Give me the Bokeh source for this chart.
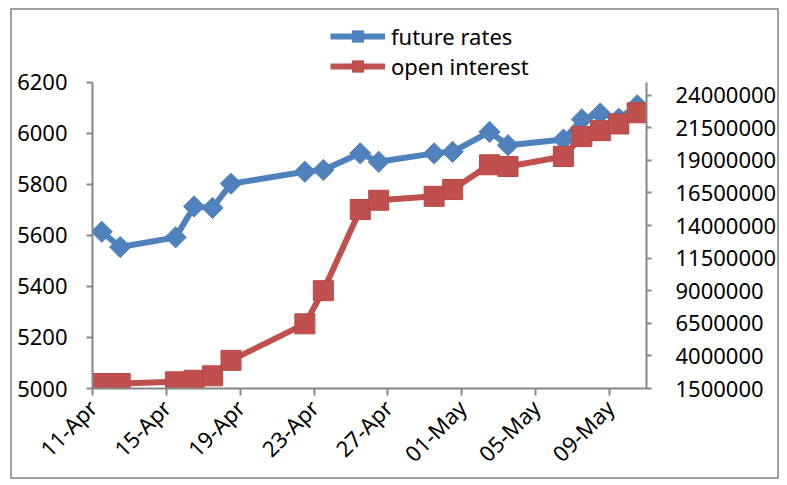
import pandas as pd
from math import pi
from bokeh.plotting import figure
from bokeh.models import (Range1d, LinearAxis, FixedTicker, DatetimeTickFormatter,
                          BasicTickFormatter, Legend, LegendItem, ColumnDataSource)
from bokeh.embed import file_html
from bokeh.resources import INLINE

# ---- data ----
dates = ["2013-04-11", "2013-04-12", "2013-04-15", "2013-04-16", "2013-04-17",
         "2013-04-18", "2013-04-22", "2013-04-23", "2013-04-25", "2013-04-26",
         "2013-04-29", "2013-04-30", "2013-05-02", "2013-05-03", "2013-05-06",
         "2013-05-07", "2013-05-08", "2013-05-09", "2013-05-10"]
future_rates = [5614, 5554, 5592, 5713, 5707, 5802, 5849, 5856, 5921, 5888,
                5921, 5927, 6005, 5953, 5975, 6054, 6077, 6057, 6109]
open_interest = [1880000, 1880000, 2010000, 2130000, 2470000, 3660000, 6460000,
                 9000000, 15230000, 15940000, 16240000, 16760000, 18660000,
                 18530000, 19300000, 20820000, 21280000, 21790000, 22650000]
tick_dates = ["2013-04-11", "2013-04-15", "2013-04-19", "2013-04-23",
              "2013-04-27", "2013-05-01", "2013-05-05", "2013-05-09"]
left_ticks = [5000, 5200, 5400, 5600, 5800, 6000, 6200]
right_ticks = [1500000, 4000000, 6500000, 9000000, 11500000, 14000000,
               16500000, 19000000, 21500000, 24000000]

BLUE = "#4F81BD"
RED = "#C0504D"
AXIS = "#868686"
FONT = "Noto Sans"
FS = "22px"

# layout (pixels)
PLOT_H = 308.0      # height of the value area (5000..6200)
EXTRA = 70.0        # room above the value area for the legend
frac = EXTRA / PLOT_H
L_MIN, L_MAX = 5000, 6200
R_MIN, R_MAX = 1500000, 25000000

# points sit in the middle of each day slot (Excel date axis, between tick marks)
x = pd.to_datetime(dates) + pd.Timedelta(hours=12)
src = ColumnDataSource(dict(x=x, fr=future_rates, oi=open_interest))

p = figure(width=769, height=471, x_axis_type="datetime",
           output_backend="svg", toolbar_location=None,
           x_range=Range1d(pd.Timestamp("2013-04-11"), pd.Timestamp("2013-05-11")),
           y_range=Range1d(L_MIN, L_MAX + (L_MAX - L_MIN) * frac),
           min_border_left=80, min_border_right=135,
           min_border_top=2, min_border_bottom=91,
           styles={"border": "2px solid #a0a0a0", "margin-left": "10px",
                   "margin-top": "8px"})
p.extra_y_ranges = {"oi": Range1d(R_MIN, R_MAX + (R_MAX - R_MIN) * frac)}
p.outline_line_color = None
p.xgrid.visible = False
p.ygrid.visible = False
p.background_fill_color = "white"
p.border_fill_color = "white"

# left axis
ya = p.yaxis[0]
ya.ticker = FixedTicker(ticks=left_ticks)
ya.bounds = (L_MIN, L_MAX)
# bottom axis
xa = p.xaxis[0]
xa.ticker = FixedTicker(ticks=[pd.Timestamp(d).value / 1e6 for d in tick_dates])
fmt = "%d-%b"
xa.formatter = DatetimeTickFormatter(days=fmt, months=fmt, years=fmt, hours=fmt,
                                     minutes=fmt, seconds=fmt, milliseconds=fmt,
                                     microseconds=fmt, hourmin=fmt, minsec=fmt)
xa.major_label_orientation = pi / 4

# right axis
ra = LinearAxis(y_range_name="oi", ticker=FixedTicker(ticks=right_ticks),
                formatter=BasicTickFormatter(use_scientific=False),
                bounds=(R_MIN, R_MAX))
p.add_layout(ra, "right")

for ax, out, stand in ((ya, 6, 19), (xa, 7, 8), (ra, 5, 24)):
    ax.axis_line_color = AXIS
    ax.axis_line_width = 2
    ax.major_tick_line_color = AXIS
    ax.major_tick_line_width = 2
    ax.major_tick_out = out
    ax.major_tick_in = 0
    ax.minor_tick_line_color = None
    ax.major_label_text_font = FONT
    ax.major_label_text_font_size = FS
    ax.major_label_text_color = "black"
    ax.major_label_standoff = stand

# series
l1 = p.line("x", "fr", source=src, line_color=BLUE, line_width=6)
m1 = p.scatter("x", "fr", source=src, marker="square", angle=pi / 4, size=15,
               fill_color=BLUE, line_color=BLUE)
l2 = p.line("x", "oi", source=src, y_range_name="oi", line_color=RED, line_width=6)
m2 = p.scatter("x", "oi", source=src, y_range_name="oi", marker="square", size=20,
               fill_color=RED, line_color="#B94744", line_width=1)

legend = Legend(items=[LegendItem(label="future rates", renderers=[l1, m1]),
                       LegendItem(label="open interest", renderers=[l2, m2])],
                location=(238, 307), orientation="vertical",
                glyph_width=55, glyph_height=28, label_height=28,
                label_standoff=6, spacing=-5, padding=0, margin=0,
                label_text_font=FONT, label_text_font_size=FS,
                label_text_color="black",
                border_line_color=None, background_fill_alpha=0)
p.add_layout(legend, "center")

open("out.html", "w").write(file_html(p, INLINE))
